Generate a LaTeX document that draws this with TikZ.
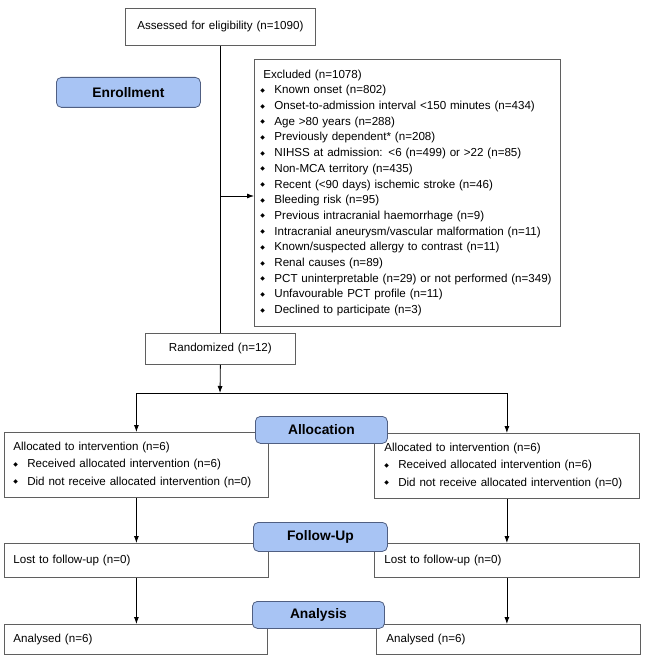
\documentclass[tikz,border=0pt]{standalone}
\usepackage{fontspec}
\setmainfont{Liberation Sans}
\newfontfamily\dejavu{DejaVu Sans}
\usetikzlibrary{positioning,arrows.meta}

\definecolor{phasefill}{RGB}{168,196,244}
\definecolor{phaseline}{RGB}{80,95,130}
\definecolor{boxline}{RGB}{95,95,95}

% small diamond bullet
\newcommand{\bl}[1][14pt]{\makebox[#1][l]{\raisebox{0.25ex}{\dejavu\fontsize{6}{6}\selectfont ◆}}}

\tikzset{
  box/.style={draw=boxline, line width=0.8pt, anchor=north west, inner xsep=9pt, inner ysep=0pt,
    align=left, font=\fontsize{11.6}{13.5}\selectfont},
  phase/.style={draw=phaseline, fill=phasefill, rounded corners=5pt, line width=0.8pt,
    anchor=north west, inner sep=0pt, font=\bfseries\fontsize{13.8}{16}\selectfont},
  link/.style={line width=0.8pt}
}

\begin{document}
\begin{tikzpicture}[x=1pt, y=-1pt, >={Latex[length=7pt,width=5pt]}]
    \useasboundingbox (0,0) rectangle (651,655);

    % 1. Enrollment
    \node[box, align=center, text width=172pt, minimum height=37pt] (assess) at (125,8)
        {Assessed for eligibility (n=1090)};
    \node[box, inner xsep=6pt, text width=294pt, minimum height=267pt,
          font=\fontsize{11.6}{15.7}\selectfont] (excl) at (254,59)
        {\hspace*{3pt}Excluded (n=1078)\\
         \bl Known onset (n=802)\\
         \bl Onset-to-admission interval <150 minutes (n=434)\\
         \bl Age >80 years (n=288)\\
         \bl Previously dependent* (n=208)\\
         \bl NIHSS at admission: <6 (n=499) or >22 (n=85)\\
         \bl Non-MCA territory (n=435)\\
         \bl Recent (<90 days) ischemic stroke (n=46)\\
         \bl Bleeding risk (n=95)\\
         \bl Previous intracranial haemorrhage (n=9)\\
         \bl Intracranial aneurysm/vascular malformation (n=11)\\
         \bl Known/suspected allergy to contrast (n=11)\\
         \bl Renal causes (n=89)\\
         \bl PCT uninterpretable (n=29) or not performed (n=349)\\
         \bl Unfavourable PCT profile (n=11)\\
         \bl Declined to participate (n=3)};
    \node[box, align=center, text width=132pt, minimum height=31pt] (rand) at (145,333)
        {Randomized (n=12)};

    % 2. Allocation
    \node[box, text width=246pt, minimum height=65pt, font=\fontsize{11.6}{17.5}\selectfont] (allocL) at (4,432)
        {Allocated to intervention (n=6)\\
         \bl[10pt] Received allocated intervention (n=6)\\
         \bl[10pt] Did not receive allocated intervention (n=0)};
    \node[box, inner xsep=10pt, text width=245pt, minimum height=65pt, font=\fontsize{11.6}{17.5}\selectfont] (allocR) at (374,433)
        {Allocated to intervention (n=6)\\
         \bl[10pt] Received allocated intervention (n=6)\\
         \bl[10pt] Did not receive allocated intervention (n=0)};

    % 3. Follow-up and analysis
    \node[box, text width=246pt, minimum height=34pt] (lostL) at (4,543) {Lost to follow-up (n=0)};
    \node[box, inner xsep=10pt, text width=245pt, minimum height=34pt] (lostR) at (374,543) {Lost to follow-up (n=0)};
    \node[box, text width=245pt, minimum height=30pt] (analL) at (4,624) {Analysed (n=6)};
    \node[box, inner xsep=10pt, text width=244pt, minimum height=30pt] (analR) at (376,624) {Analysed (n=6)};

    % 4. Connectors
    \coordinate (tap) at (220,196);
    \coordinate (split) at (220,393);
    \draw[link] (assess.south) -- (rand.north);
    \draw[link,->] (tap) -- (tap -| excl.west);
    \draw[link,->] (rand.south) -- (split);
    \draw[link,->] (split) -| (allocL.north);
    \draw[link,->] (split) -| (allocR.north);
    \draw[link,->] (allocL.south) -- (lostL.north);
    \draw[link,->] (allocR.south) -- (lostR.north);
    \draw[link,->] (lostL.south) -- (lostL.south |- analL.north);
    \draw[link,->] (lostR.south) -- (lostR.south |- analR.north);

    % 5. Phase labels
    \node[phase, minimum width=144pt, minimum height=30pt] (enrol) at (56,77) {Enrollment};
    \node[phase, minimum width=132pt, minimum height=27pt] (alloc) at (255,416) {Allocation};
    \node[phase, minimum width=134pt, minimum height=29pt] (follow) at (253,522) {Follow-Up};
    \node[phase, minimum width=132pt, minimum height=27pt] (analysis) at (252,601) {Analysis};
\end{tikzpicture}
\end{document}
